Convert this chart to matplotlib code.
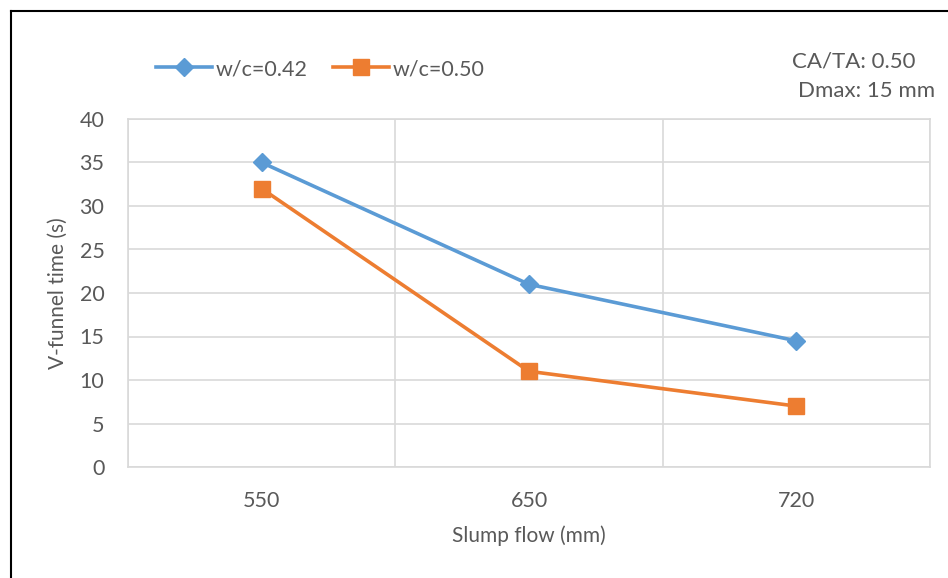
import matplotlib.pyplot as plt
from matplotlib.lines import Line2D

# slump flow categories and V-funnel times (s)
slump_flow = ['550', '650', '720']
vfunnel_042 = [35, 21, 14.5]
vfunnel_050 = [32, 11, 7]
series_labels = ['w/c=0.42', 'w/c=0.50']

plt.rcParams['font.family'] = ['Lato', 'DejaVu Sans']
txt = '#595959'
grid = '#d9d9d9'

fig = plt.figure(figsize=(9.48, 5.78), dpi=100)
ax = fig.add_axes([128 / 948, 1 - 467 / 578, 802 / 948, 348 / 578])

xs = list(range(len(slump_flow)))
l1, = ax.plot(xs, vfunnel_042, color='#5b9bd5', lw=2.6, marker='D',
              markersize=9, label=series_labels[0], zorder=3)
l2, = ax.plot(xs, vfunnel_050, color='#ed7d31', lw=2.6, marker='s',
              markersize=11, label=series_labels[1], zorder=3)

ax.set_xlim(-0.5, len(slump_flow) - 0.5)
ax.set_ylim(0, 40)
ax.set_yticks(range(0, 41, 5))
ax.set_xticks(xs)
ax.set_xticklabels(slump_flow)
ax.set_xticks([i - 0.5 for i in range(len(slump_flow) + 1)], minor=True)
ax.grid(axis='y', which='major', color=grid, lw=1.2)
ax.grid(axis='x', which='minor', color=grid, lw=1.2)
ax.tick_params(which='both', length=0, colors=txt, labelsize=15.5)
ax.tick_params(axis='x', pad=17)
ax.tick_params(axis='y', pad=17)
for s in ax.spines.values():
    s.set_color(grid)
    s.set_linewidth(1.2)

ax.set_xlabel('Slump flow (mm)', color=txt, fontsize=15, labelpad=11)
ax.set_ylabel('V-funnel time (s)', color=txt, fontsize=15, labelpad=8)

fig.legend(handles=[l1, l2], loc='center left', bbox_to_anchor=(137 / 948, 1 - 69 / 578),
           ncol=2, frameon=False, fontsize=15.5, labelcolor=txt, handlelength=2.6,
           handletextpad=0.15, columnspacing=1.2)

fig.text(915 / 948, 1 - 61 / 578, 'CA/TA: 0.50', ha='right', va='center',
         color=txt, fontsize=16)
fig.text(935 / 948, 1 - 91 / 578, 'Dmax: 15 mm', ha='right', va='center',
         color=txt, fontsize=16)

# outer frame on the left and top
fig.add_artist(Line2D([11 / 948, 11 / 948], [0, 1 - 11 / 578], color='black', lw=1.5))
fig.add_artist(Line2D([11 / 948, 1], [1 - 11 / 578, 1 - 11 / 578], color='black', lw=1.5))

fig.savefig('out.png', dpi=100)
